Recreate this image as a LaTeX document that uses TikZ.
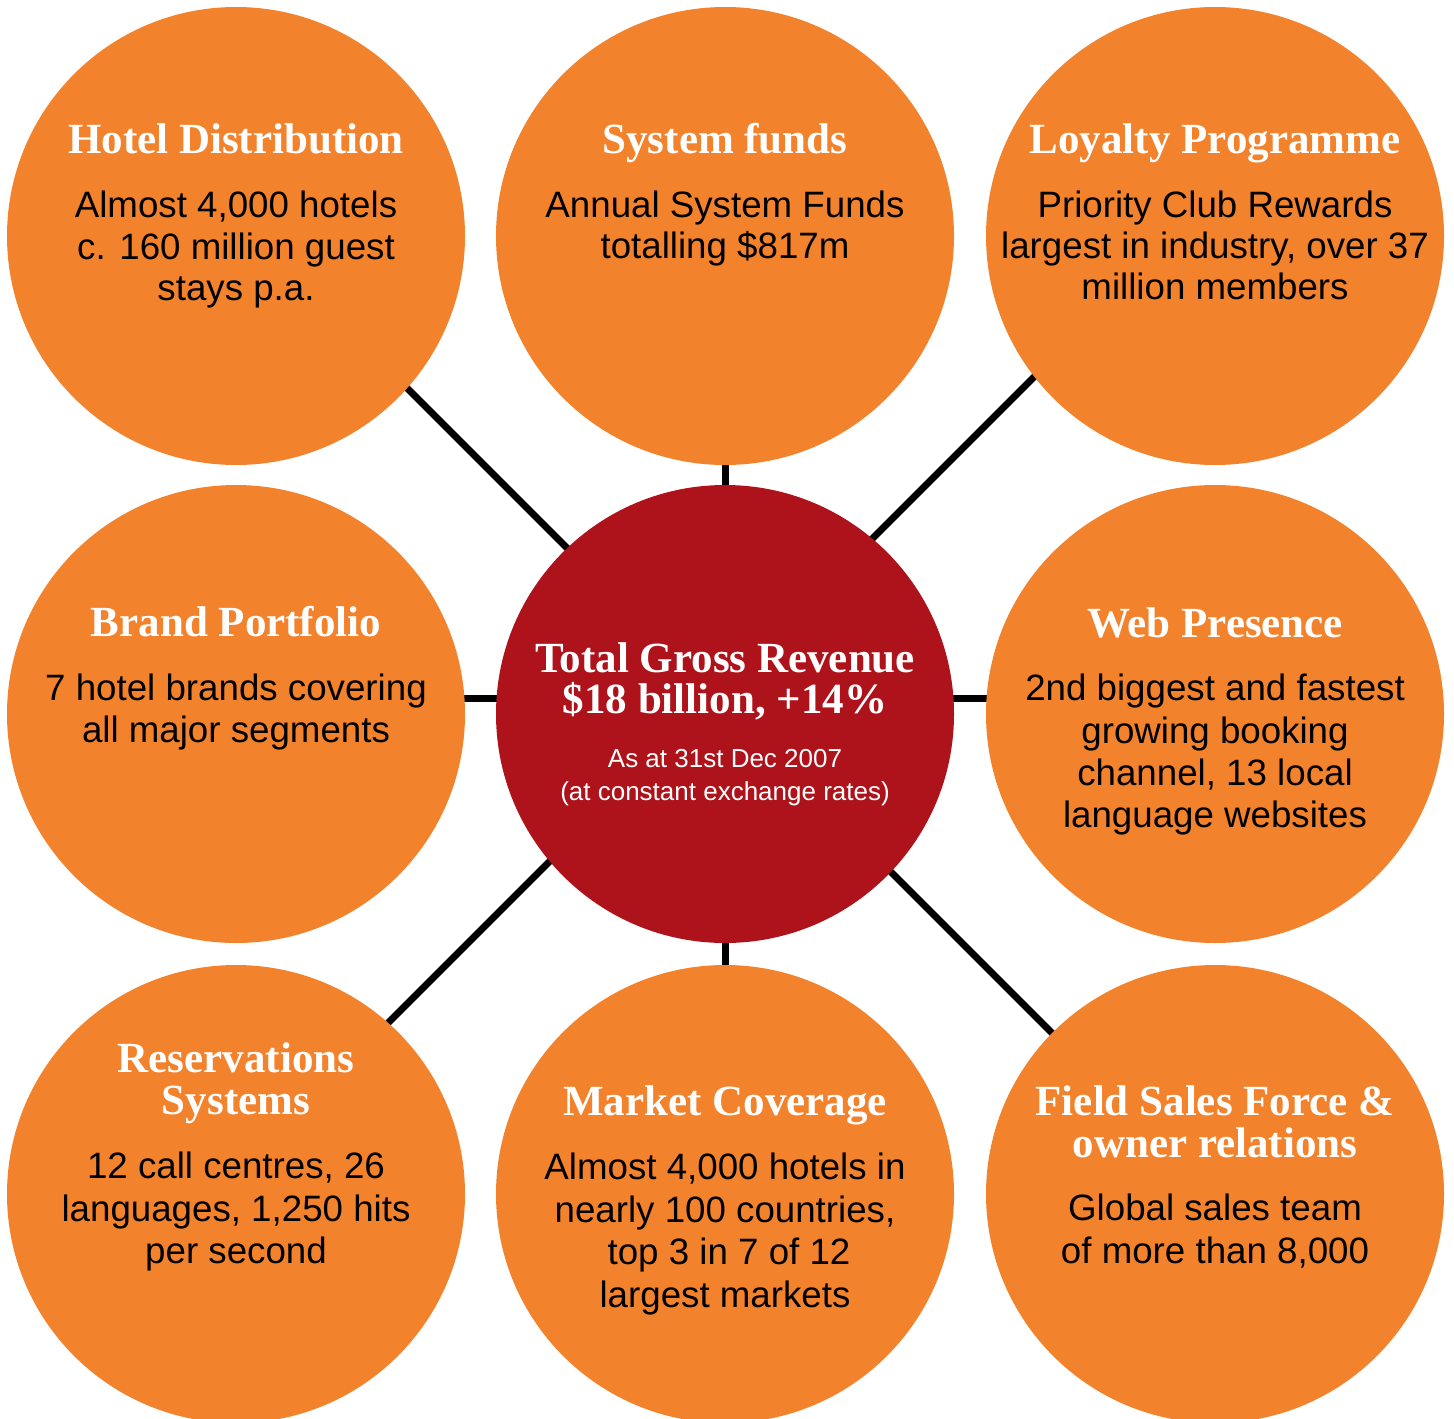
\documentclass[tikz,border=0pt]{standalone}
\usepackage{fontspec}
\setmainfont{Liberation Sans}
\newfontfamily\ttlfam{Liberation Serif}
\usetikzlibrary{backgrounds}
\definecolor{orng}{RGB}{243,130,44}
\definecolor{crimson}{RGB}{174,18,26}
\begin{document}
\begin{tikzpicture}[x=0.5pt,y=-0.5pt,
  bub/.style={circle,fill=orng,minimum size=229pt,inner sep=0pt,outer sep=0pt},
  ctr/.style={bub,fill=crimson},
  ttl/.style={anchor=base,inner sep=0pt,text=white,font=\ttlfam\bfseries\fontsize{21.5}{25}\selectfont},
  bdy/.style={anchor=base,inner sep=0pt,text=black,font=\fontsize{18.35}{22}\selectfont},
  subtxt/.style={anchor=base,inner sep=0pt,text=white,font=\fontsize{13}{16}\selectfont},
  conn/.style={line width=3.5pt,black}]
\useasboundingbox (0,0) rectangle (1454,1418);
\clip (0,0) rectangle (1454,1418);
% circles
\node[bub] (hd) at (236,236) {};
\node[bub] (sf) at (725,236) {};
\node[bub] (lp) at (1215,236) {};
\node[bub] (bp) at (236,714) {};
\node[ctr] (c)  at (725,714) {};
\node[bub] (wp) at (1215,714) {};
\node[bub] (rs) at (236,1194) {};
\node[bub] (mc) at (725,1194) {};
\node[bub] (fs) at (1215,1194) {};
% connector helper coordinates
\coordinate (hub) at (715,696);
\coordinate (hdx) at (315,296);
\coordinate (lpx) at (1115,296);
\coordinate (rsx) at (315,1096);
\coordinate (fsx) at (1115,1096);
\begin{scope}[on background layer]
  \draw[conn] (hub) -- (hdx);
  \draw[conn] (hub) -- (lpx);
  \draw[conn] (hub) -- (rsx);
  \draw[conn] (hub) -- (fsx);
  \draw[conn] ([yshift=8pt]c.center) -- ([yshift=8pt]bp.center);
  \draw[conn] ([yshift=8pt]c.center) -- ([yshift=8pt]wp.center);
  \draw[conn] (c) -- (sf);
  \draw[conn] (c) -- (mc);
\end{scope}
% Hotel Distribution
\node[ttl] (hdt) at (236,153) {Hotel Distribution};
\node[bdy] (hdb1) at (236,217) {Almost 4,000 hotels};
\node[bdy] (hdb2) at (236,259) {c. 160 million guest};
\node[bdy] (hdb3) at (236,300) {stays p.a.};
% System funds
\node[ttl] (sft) at (725,153) {System funds};
\node[bdy] (sfb1) at (725,217) {Annual System Funds};
\node[bdy] (sfb2) at (725,258) {totalling \$817m};
% Loyalty Programme
\node[ttl] (lpt) at (1215,153) {Loyalty Programme};
\node[bdy] (lpb1) at (1215,217) {Priority Club Rewards};
\node[bdy] (lpb2) at (1215,258) {largest in industry, over 37};
\node[bdy] (lpb3) at (1215,299) {million members};
% Brand Portfolio
\node[ttl] (bpt) at (236,636) {Brand Portfolio};
\node[bdy] (bpb1) at (236,700) {7 hotel brands covering};
\node[bdy] (bpb2) at (236,742) {all major segments};
% Centre
\node[ttl] (ct1) at (725,672) {Total Gross Revenue};
\node[ttl] (ct2) at (725,713) {\$18 billion, +14\%};
\node[subtxt] (cs1) at (725,767) {As at 31st Dec 2007};
\node[subtxt] (cs2) at (725,800) {(at constant exchange rates)};
% Web Presence
\node[ttl] (wpt) at (1215,637) {Web Presence};
\node[bdy] (wpb1) at (1215,700) {2nd biggest and fastest};
\node[bdy] (wpb2) at (1215,743) {growing booking};
\node[bdy] (wpb3) at (1215,785) {channel, 13 local};
\node[bdy] (wpb4) at (1215,827) {language websites};
% Reservations Systems
\node[ttl] (rst1) at (236,1072) {Reservations};
\node[ttl] (rst2) at (236,1114) {Systems};
\node[bdy] (rsb1) at (236,1178) {12 call centres, 26};
\node[bdy] (rsb2) at (236,1221) {languages, 1,250 hits};
\node[bdy] (rsb3) at (236,1263) {per second};
% Market Coverage
\node[ttl] (mct) at (725,1115) {Market Coverage};
\node[bdy] (mcb1) at (725,1179) {Almost 4,000 hotels in};
\node[bdy] (mcb2) at (725,1222) {nearly 100 countries,};
\node[bdy] (mcb3) at (729,1264) {top 3 in 7 of 12};
\node[bdy] (mcb4) at (725,1307) {largest markets};
% Field Sales Force
\node[ttl] (fst1) at (1215,1115) {Field Sales Force \&};
\node[ttl] (fst2) at (1215,1157) {owner relations};
\node[bdy] (fsb1) at (1215,1220) {Global sales team};
\node[bdy] (fsb2) at (1215,1263) {of more than 8,000};
\end{tikzpicture}
\end{document}
